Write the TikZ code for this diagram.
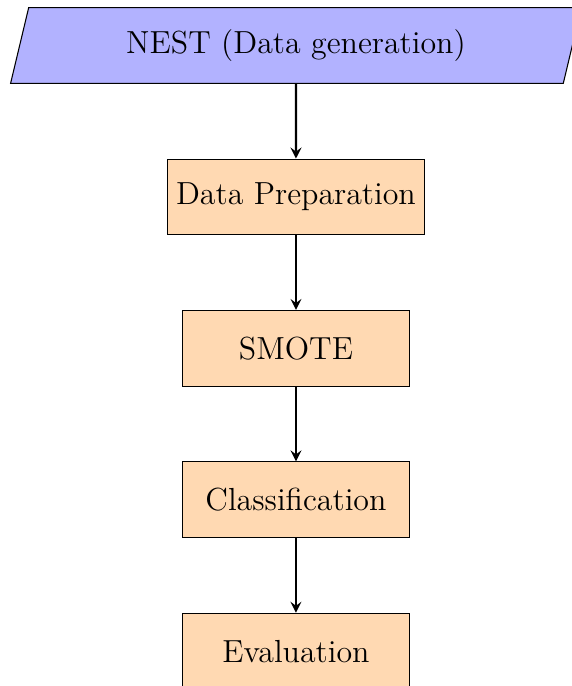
\documentclass[tikz,border=0pt]{standalone}
\usetikzlibrary{shapes.geometric}

\tikzset{
    datain/.style={trapezium, trapezium left angle=70, trapezium right angle=110,
        trapezium stretches body=true, draw, fill=blue!30,
        minimum width=7.54cm, minimum height=1cm, font=\large},
    passo/.style={rectangle, draw, fill=orange!30, minimum width=3cm,
        minimum height=1cm, font=\large},
    freccia/.style={-stealth, thick}
}

\begin{document}
\begin{tikzpicture}
    % Fissiamo i margini della figura
    \useasboundingbox (-3.910,0.601) rectangle (3.646,-8.461);

    % Nodo di partenza (generazione dei dati)
    \node[datain] (nest) at (0,0) {NEST (Data generation)};

    % Disegna i passi della pipeline uno sotto l'altro
    \foreach \nome/\testo [count=\i] in {prep/Data Preparation, smote/SMOTE, classif/Classification, eval/Evaluation} {
        \node[passo] (\nome) at (0, -\i*2) {\testo}; % Un rettangolo per ogni passo
    }

    % Frecce tra i passi
    \draw[freccia] (nest) -- (prep);
    \draw[freccia] (prep) -- (smote);
    \draw[freccia] (smote) -- (classif);
    \draw[freccia] (classif) -- (eval);
\end{tikzpicture}
\end{document}
